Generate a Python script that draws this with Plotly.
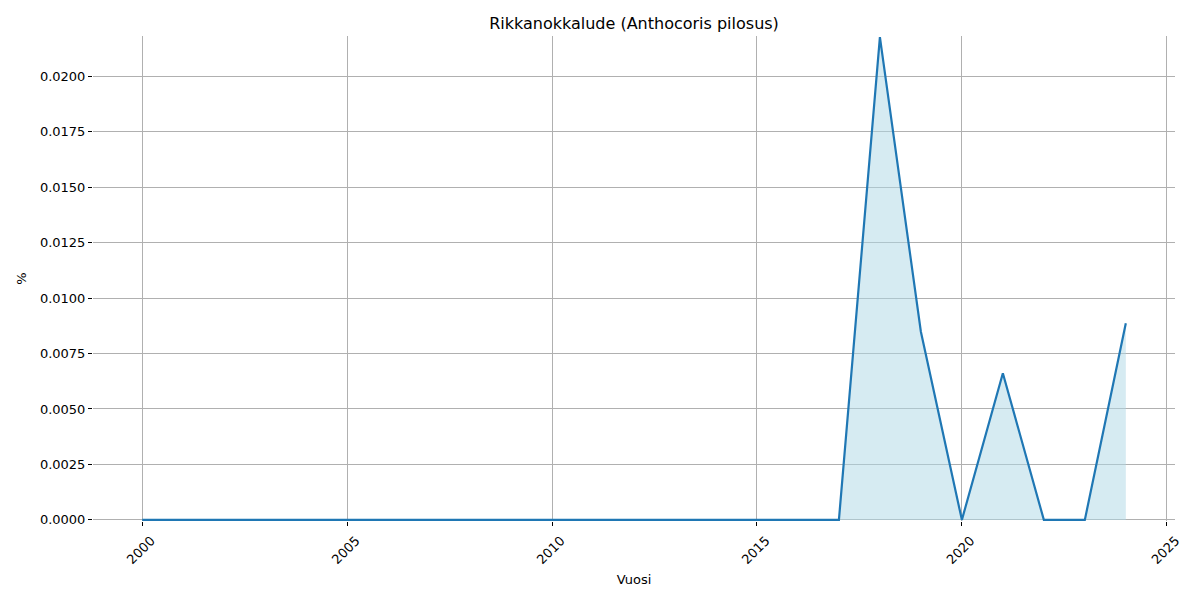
import plotly.graph_objects as go

years = list(range(2000, 2025))
values = [0.0] * 18 + [0.02176, 0.00848, 0.0, 0.00661, 0.0, 0.0, 0.00886]

title = "Rikkanokkalude (Anthocoris pilosus)"
xlabel = "Vuosi"
ylabel = "%"

font = "DejaVu Sans"

fig = go.Figure()
fig.add_trace(go.Scatter(
    x=years, y=values, mode="none", fill="tozeroy",
    fillcolor="rgba(173,216,230,0.5)", hoverinfo="skip", showlegend=False))
fig.add_trace(go.Scatter(
    x=years, y=values, mode="lines", cliponaxis=False,
    line=dict(color="#1f77b4", width=2.2), showlegend=False))

ymax = max(values)
# page body has an 8px margin; compensate so plot area lands at (93..1175, 37..520)
fig.update_layout(
    width=1200, height=600,
    margin=dict(l=85, r=33, t=28, b=87, autoexpand=False),
    paper_bgcolor="white", plot_bgcolor="white",
    font=dict(family=font, size=13, color="black"),
    title=dict(text=title, x=0.5, xref="paper", y=1 - 15 / 600, yanchor="middle",
               font=dict(size=16, family=font), automargin=False),
    xaxis=dict(
        range=[1998.8, 2025.2], tick0=2000, dtick=5, tickangle=-45,
        showgrid=True, gridcolor="#b0b0b0", gridwidth=1,
        ticks="outside", ticklen=4, tickcolor="black", tickwidth=1,
        showline=False, zeroline=False, automargin=False,
        ticklabelshift=9, ticklabelstandoff=2,
        title=dict(text=xlabel, font=dict(size=13), standoff=8),
        tickfont=dict(size=13),
    ),
    yaxis=dict(
        range=[-0.00005, ymax + 0.00005], tick0=0, dtick=0.0025, tickformat=".4f",
        showgrid=True, gridcolor="#b0b0b0", gridwidth=1,
        ticks="outside", ticklen=4, tickcolor="black", tickwidth=1,
        showline=False, zeroline=False, automargin=False,
        title=dict(text=ylabel, font=dict(size=13), standoff=10),
        tickfont=dict(size=13),
    ),
)

fig.write_html("out.html")
